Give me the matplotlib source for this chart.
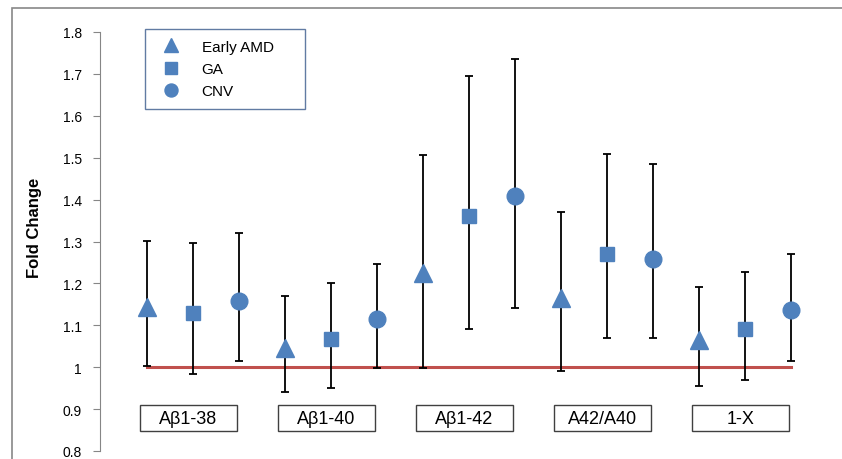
import matplotlib
matplotlib.use("Agg")
import matplotlib.pyplot as plt
from matplotlib.patches import Rectangle
import numpy as np

plt.rcParams['font.family'] = ['Liberation Sans', 'DejaVu Sans']

categories = ["A\u03b21-38", "A\u03b21-40", "A\u03b21-42", "A42/A40", "1-X"]
series = ["Early AMD", "GA", "CNV"]
# means per series, per category
early_mean = [1.143, 1.046, 1.224, 1.165, 1.065]
early_hi   = [1.301, 1.169, 1.506, 1.370, 1.191]
early_lo   = [1.003, 0.940, 0.997, 0.992, 0.954]
ga_mean    = [1.129, 1.068, 1.360, 1.270, 1.092]
ga_hi      = [1.297, 1.200, 1.695, 1.508, 1.227]
ga_lo      = [0.984, 0.951, 1.092, 1.070, 0.970]
cnv_mean   = [1.158, 1.115, 1.408, 1.259, 1.136]
cnv_hi     = [1.321, 1.246, 1.735, 1.484, 1.270]
cnv_lo     = [1.015, 0.998, 1.142, 1.070, 1.015]
yticks = [0.8, 0.9, 1.0, 1.1, 1.2, 1.3, 1.4, 1.5, 1.6, 1.7, 1.8]
ytick_labels = ["0.8", "0.9", "1", "1.1", "1.2", "1.3", "1.4", "1.5", "1.6", "1.7", "1.8"]

W, H = 842, 460
fig = plt.figure(figsize=(W/100, H/100), dpi=100)
ax_l, ax_r, ax_t, ax_b = 100, 838, 33, 452
axw = ax_r - ax_l
axh = ax_b - ax_t
ax = fig.add_axes([ax_l/W, 1-ax_b/H, axw/W, axh/H])

blue = '#4F81BD'
markers = ['^', 's', 'o']
msizes = [13, 10.5, 12]
all_mean = [early_mean, ga_mean, cnv_mean]
all_hi = [early_hi, ga_hi, cnv_hi]
all_lo = [early_lo, ga_lo, cnv_lo]
n = len(categories)
for s in range(3):
    xs = np.arange(n)*3 + s
    m = np.array(all_mean[s]); hi = np.array(all_hi[s]); lo = np.array(all_lo[s])
    ax.errorbar(xs, m, yerr=[m-lo, hi-m], fmt='none', ecolor='black', elinewidth=1.3,
                capsize=2.9, capthick=1.3, zorder=2)
    ax.plot(xs, m, linestyle='none', marker=markers[s], markersize=msizes[s],
            color=blue, markeredgecolor=blue, zorder=3, label=series[s])

ax.plot([0, 3*n-1], [1, 1], color='#C0504D', lw=2.2, zorder=1)

# category label boxes
bw, bh = 97/46, 26/419
for i, c in enumerate(categories):
    cx = 3*i + 1 - 0.1
    cy = 0.878
    ax.add_patch(Rectangle((cx-bw/2, cy-bh/2), bw, bh, facecolor='white',
                           edgecolor='#404040', lw=1.0, zorder=4, clip_on=False))
    ax.text(cx, cy, c, ha='center', va='center', fontsize=13, zorder=5)

ax.set_xlim(-47/46, 3*n-1 + (ax_r-791)/46)
ax.set_ylim(0.8, 1.8)
ax.set_yticks(yticks)
ax.set_yticklabels(ytick_labels, fontsize=10)
ax.set_xticks([])
for sp in ['top', 'right', 'bottom']:
    ax.spines[sp].set_visible(False)
ax.spines['left'].set_color('#868686')
ax.tick_params(axis='y', direction='out', length=5, color='#868686', pad=8)
ax.set_ylabel("Fold Change", fontsize=12, fontweight='bold')
ax.yaxis.set_label_coords(-58/axw, 0.535)

leg = ax.legend(loc='upper left',
                bbox_to_anchor=((145-ax_l)/axw, 1 + 3/axh - 0.01, 160/axw, 0.01),
                mode='expand', frameon=True, fancybox=False, fontsize=11,
                handletextpad=1.0, borderpad=0.7, labelspacing=0.55,
                borderaxespad=0, handlelength=2.0, markerscale=0.78)
leg.get_frame().set_edgecolor('#3A5A8C')
leg.get_frame().set_linewidth(1.0)

# outer chart border
fig.patches.append(Rectangle((12/W, -0.1), 1.2, 1.1 - 9/H, transform=fig.transFigure,
                             fill=False, edgecolor='#888888', lw=1.2))

fig.savefig('out.png', dpi=100)
